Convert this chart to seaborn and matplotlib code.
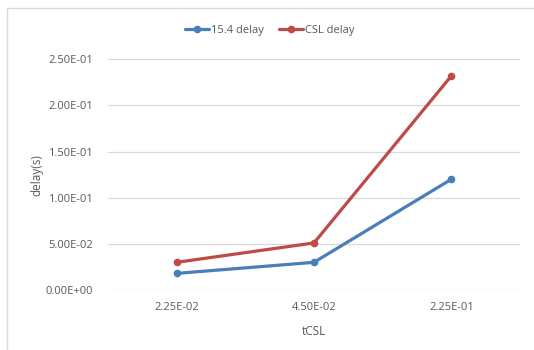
import matplotlib
matplotlib.use("Agg")
import matplotlib.pyplot as plt
from matplotlib.patches import Rectangle
import seaborn as sns
import pandas as pd

# Data
categories = ["2.25E-02", "4.50E-02", "2.25E-01"]
delay_154 = [0.018, 0.030, 0.120]
delay_csl = [0.030, 0.051, 0.232]
series_names = ["15.4 delay", "CSL delay"]
y_ticks = [0.0, 0.05, 0.10, 0.15, 0.20, 0.25]
y_tick_labels = ["0.00E+00", "5.00E-02", "1.00E-01", "1.50E-01", "2.00E-01", "2.50E-01"]

df = pd.DataFrame({
    "x": list(range(len(categories))) * 2,
    "delay": delay_154 + delay_csl,
    "series": [series_names[0]] * len(categories) + [series_names[1]] * len(categories),
})

sns.set_style("white")
plt.rcParams["font.family"] = ["Open Sans", "DejaVu Sans"]

text_color = "#595959"
grid_color = "#D9D9D9"
palette = {series_names[0]: "#4A7EBB", series_names[1]: "#BE4B48"}

fig = plt.figure(figsize=(5.34, 3.5), dpi=100)
ax = fig.add_axes([108 / 534, 60 / 350, 412 / 534, 230.7 / 350])

# outer chart border
fig.patches.append(Rectangle((7 / 534, -0.05), 1.2, 1 - 8 / 350 + 0.05,
                             transform=fig.transFigure, fill=False,
                             edgecolor=grid_color, linewidth=1.0, zorder=0))

sns.lineplot(data=df, x="x", y="delay", hue="series", palette=palette,
             marker="o", markersize=5.5, markeredgewidth=0, linewidth=2.3,
             ax=ax, legend=False, zorder=3)

ax.set_xlim(-0.5, len(categories) - 0.5)
ax.set_ylim(0, 0.25)
ax.set_xticks(range(len(categories)))
ax.set_xticklabels(categories)
ax.set_yticks(y_ticks)
ax.set_yticklabels(y_tick_labels)
ax.tick_params(axis="both", length=0, labelsize=8, labelcolor=text_color)
ax.tick_params(axis="y", pad=11)
ax.tick_params(axis="x", pad=9)
ax.grid(axis="y", color=grid_color, linewidth=0.9)
ax.set_axisbelow(True)
for s in ax.spines.values():
    s.set_visible(False)

ax.set_xlabel("tCSL", fontsize=8.5, color=text_color, labelpad=8)
ax.set_ylabel("delay(s)", fontsize=8.5, color=text_color, labelpad=1)

handles = [plt.Line2D([], [], color=palette[n], linewidth=2.3, marker="o",
                      markersize=5.5, markeredgewidth=0) for n in series_names]
fig.legend(handles, series_names, loc="center", bbox_to_anchor=(0.505, 1 - 30 / 350),
           ncol=2, frameon=False, fontsize=8, handlelength=2.2,
           handletextpad=0.2, columnspacing=1.3, labelcolor=text_color)

fig.savefig("out.png", dpi=100)
